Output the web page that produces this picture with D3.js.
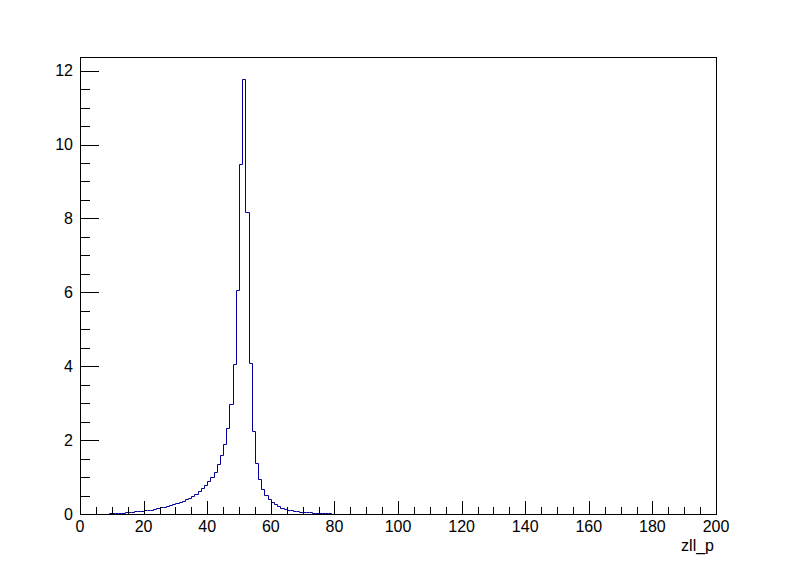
<!DOCTYPE html>
<html><head><meta charset="utf-8">
<script src="https://cdn.jsdelivr.net/npm/d3@7"></script>
<style>body{margin:0;background:#fff}svg{display:block}text{font-family:"Liberation Sans",Arial,sans-serif}</style>
</head><body>
<svg id="c" width="796" height="572"></svg>
<script>
// histogram: 200 bins of width 1 from 0 to 200
const binEdgesRange = [0, 200];
const binValues = [
  0,0,0,0,0,0,0,0,0.01,0.02,
  0.02,0.03,0.03,0.04,0.05,0.05,0.06,0.07,0.08,0.09,
  0.10,0.11,0.12,0.14,0.16,0.18,0.20,0.22,0.25,0.28,
  0.31,0.33,0.36,0.40,0.44,0.50,0.55,0.61,0.70,0.78,
  0.88,0.99,1.15,1.34,1.59,1.89,2.34,2.97,4.07,6.05,
  9.47,11.78,8.17,4.09,2.25,1.37,0.94,0.67,0.51,0.40,
  0.32,0.27,0.22,0.17,0.14,0.12,0.10,0.09,0.07,0.065,
  0.055,0.05,0.045,0.03,0.03,0.027,0.025,0.025,0.02,0,
  0,0,0,0,0,0,0,0,0,0, 0,0,0,0,0,0,0,0,0,0,
  0,0,0,0,0,0,0,0,0,0, 0,0,0,0,0,0,0,0,0,0,
  0,0,0,0,0,0,0,0,0,0, 0,0,0,0,0,0,0,0,0,0,
  0,0,0,0,0,0,0,0,0,0, 0,0,0,0,0,0,0,0,0,0,
  0,0,0,0,0,0,0,0,0,0, 0,0,0,0,0,0,0,0,0,0,
  0,0,0,0,0,0,0,0,0,0, 0,0,0,0,0,0,0,0,0,0
];
const xTicks = [0,20,40,60,80,100,120,140,160,180,200];
const yTicks = [0,2,4,6,8,10,12];
const xTitle = "zll_p";

const L = 80, R = 716, T = 57, B = 514;
const svg = d3.select("#c");
const nb = binValues.length;
const bw = (binEdgesRange[1]-binEdgesRange[0]) / nb;
const yMax = d3.max(binValues) * 1.05;
const x = d3.scaleLinear().domain(binEdgesRange).range([L, R]);
const y = d3.scaleLinear().domain([0, yMax]).range([B, T]);

// histogram path
const pts = [[binEdgesRange[0], 0]];
binValues.forEach((v, i) => {
  const x0 = binEdgesRange[0] + i*bw;
  pts.push([x0, v], [x0 + bw, v]);
});
pts.push([binEdgesRange[1], 0]);
const line = d3.line().x(d => Math.round(x(d[0])) + 0.5).y(d => Math.round(y(d[1])) + 0.5);
svg.append("path").attr("d", line(pts)).attr("fill","none").attr("stroke","#000099").attr("stroke-width",1);

// frame
svg.append("rect").attr("x", L+0.5).attr("y", T+0.5).attr("width", R-L).attr("height", B-T)
  .attr("fill","none").attr("stroke","#000").attr("stroke-width",1);

// x axis
const xMinor = d3.range(binEdgesRange[0], binEdgesRange[1] + 0.001, 5);
const gx = svg.append("g");
xMinor.forEach(v => {
  const major = xTicks.includes(v);
  const px = Math.round(x(v)) + 0.5;
  gx.append("line").attr("x1", px).attr("x2", px).attr("y1", B).attr("y2", B - (major ? 13 : 7))
    .attr("stroke","#000").attr("stroke-width",1);
});
xTicks.forEach(v => {
  gx.append("text").attr("x", x(v)).attr("y", 532).attr("text-anchor","middle")
    .attr("font-size", 16).text(v);
});
svg.append("text").attr("x", 714).attr("y", 551).attr("text-anchor","end").attr("font-size",16).text(xTitle);

// y axis
const yMinor = d3.range(0, yMax, 0.5);
const gy = svg.append("g");
yMinor.forEach(v => {
  const major = yTicks.includes(v);
  const py = Math.round(y(v)) + 0.5;
  gy.append("line").attr("x1", L).attr("x2", L + (major ? 19 : 10)).attr("y1", py).attr("y2", py)
    .attr("stroke","#000").attr("stroke-width",1);
});
yTicks.forEach(v => {
  gy.append("text").attr("x", 73).attr("y", y(v) + 5.5).attr("text-anchor","end")
    .attr("font-size", 16).text(v);
});
</script>
</body></html>
